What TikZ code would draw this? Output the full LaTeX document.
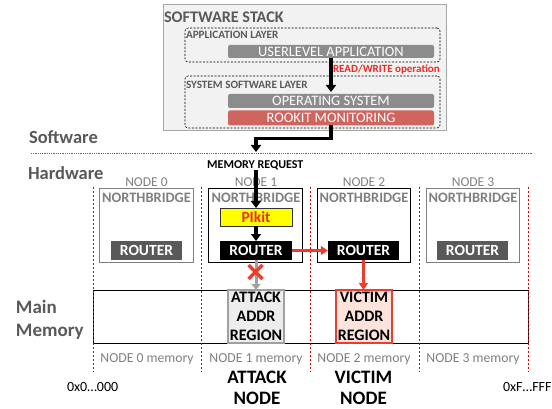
\documentclass[tikz,border=0pt]{standalone}
\usepackage{fontspec}
\setmainfont{Carlito}
\usetikzlibrary{arrows.meta,calc}
\definecolor{stackfill}{HTML}{F2F2F2}
\definecolor{stackline}{HTML}{A6A6A6}
\definecolor{barfill}{HTML}{8C8C8C}
\definecolor{rookfill}{HTML}{D06560}
\definecolor{txtgrey}{HTML}{7F7F7F}
\definecolor{headgrey}{HTML}{595959}
\definecolor{routergrey}{HTML}{595959}
\definecolor{hotred}{HTML}{EE2A24}
\definecolor{arrred}{HTML}{EE3B2A}
\definecolor{attfill}{HTML}{EDEDED}
\definecolor{attline}{HTML}{A0A0A0}
\definecolor{vicfill}{HTML}{FCE4DC}
\definecolor{vicline}{HTML}{E8402E}
\definecolor{pikfill}{HTML}{FFFF00}
\newcommand\fsz[2]{\fontsize{#1}{#2}\selectfont}
\begin{document}
\begin{tikzpicture}[x=1pt,y=-1pt,
  txt/.style={inner sep=0pt,outer sep=0pt},
  stackbox/.style={draw=stackline,fill=stackfill,line width=0.8pt,inner sep=0pt,outer sep=0pt},
  layerbox/.style={draw=black,dashed,dash pattern=on 2pt off 1.5pt,rounded corners=3pt,line width=0.6pt,inner sep=0pt,outer sep=0pt},
  bar/.style={fill=#1,rounded corners=2pt,inner sep=0pt,outer sep=0pt,minimum width=206pt,text=white,font=\fsz{14.4}{16}},
  nodebox/.style={draw=#1,line width=0.8pt,minimum width=93.5pt,minimum height=74.5pt,inner sep=0pt,outer sep=0pt},
  routerbox/.style={fill=#1,minimum width=71.5pt,minimum height=19pt,inner sep=0pt,outer sep=0pt,text=white,font=\bfseries\fsz{15.5}{17}},
  nlabel/.style={txt,text=txtgrey,font=\fsz{13.5}{15}},
  nbridge/.style={txt,text=txtgrey,font=\bfseries\fsz{14.4}{16}},
  memlabel/.style={txt,text=txtgrey,font=\fsz{13.7}{15}},
  bigbold/.style={txt,text=headgrey,font=\bfseries\fsz{18.5}{22}},
  blackarrow/.style={line width=3.5pt,-{Triangle[length=7pt,width=10pt]}},
  redarrow/.style={draw=arrred,line width=3pt,-{Triangle[length=7pt,width=9pt]}},
  greyarrow/.style={draw=attline,line width=3pt,-{Triangle[length=6pt,width=9pt]}},
  divider/.style={draw=red!85!black,dashed,dash pattern=on 2pt off 2pt,line width=0.6pt},
  region/.style={line width=1.8pt,minimum width=56pt,minimum height=53pt,inner sep=0pt,outer sep=0pt,align=center,font=\bfseries\fsz{16}{19.3}}
]
\useasboundingbox (0,0) rectangle (552,409);

% ---------------- software stack ----------------
\node[stackbox,minimum width=283pt,minimum height=126pt] (stack) at (304.5,67) {};
\node[txt,anchor=base west,text=headgrey,font=\bfseries\fsz{16.2}{18}] (stacktitle) at (164,22.5) {SOFTWARE STACK};
\node[layerbox,minimum width=255pt,minimum height=34pt] (applayer) at (312.5,45) {};
\node[txt,anchor=base west,text=headgrey,font=\bfseries\fsz{11.2}{12}] (applabel) at (186,39) {APPLICATION LAYER};
\node[layerbox,minimum width=255pt,minimum height=52pt] (syslayer) at (312.5,102) {};
\node[txt,anchor=base west,text=headgrey,font=\bfseries\fsz{11.2}{12}] (syslabel) at (186,89) {SYSTEM SOFTWARE LAYER};
\node[bar=barfill,minimum height=13pt] (user) at (331,51.5) {USERLEVEL APPLICATION};
\node[bar=barfill,minimum height=14pt] (os) at (331,101) {OPERATING SYSTEM};
\node[bar=rookfill,minimum height=15pt] (rook) at (331,118) {ROOKIT MONITORING};
\node[txt,anchor=base west,text=hotred,font=\bfseries\fsz{11}{13}] (rwlabel) at (333,72.5) {READ/WRITE operation};

\draw[blackarrow,shorten >=2pt] (user.south) -- (os.north);
\coordinate (hwin) at (256,152);
\draw[blackarrow,rounded corners=0pt] (rook.south) -- ++(0,13) -| (hwin);

% ---------------- divider ----------------
\node[bigbold,anchor=base west] (swlabel) at (29,143.5) {Software};
\coordinate (divl) at (31,153.5);
\coordinate (divr) at (532,153.5);
\draw[draw=gray!80!black,dash pattern=on 1pt off 0.8pt,line width=0.7pt] (divl) -- (divr);
\node[bigbold,anchor=base west] (hwlabel) at (28,180) {Hardware};
\node[txt,anchor=base,font=\bfseries\fsz{12}{13}] (memreq) at (255.3,168.3) {MEMORY REQUEST};

% ---------------- dividers between nodes ----------------
\foreach \i/\xx in {0/93,1/201,2/310,3/419,4/528}{
  \coordinate (dtop\i) at (\xx,187);
  \coordinate (dbot\i) at (\xx,372);
}

% ---------------- hardware nodes ----------------
\node[nodebox=txtgrey] (n0) at (146.3,225.5) {};
\node[nodebox=black] (n1) at (255.5,225.5) {};
\node[nodebox=black] (n2) at (363.7,225.5) {};
\node[nodebox=txtgrey] (n3) at (472.7,225.5) {};
\foreach \i/\xx in {0/146.5,1/256,2/364,3/473}{
  \node[nlabel,anchor=base] (nl\i) at (\xx,186.5) {NODE \i};
  \node[nbridge,anchor=base] (nb\i) at (\xx,202.5) {NORTHBRIDGE};
}
\node[routerbox=routergrey] (r0) at (146.5,250.5) {ROUTER};
\node[routerbox=black] (r1) at (256,250.5) {ROUTER};
\node[routerbox=black] (r2) at (363.5,250.5) {ROUTER};
\node[routerbox=routergrey] (r3) at (472.5,250.5) {ROUTER};
\node[draw=black!80,line width=0.8pt,fill=pikfill,minimum width=72pt,minimum height=18pt,inner sep=0pt,outer sep=0pt,text=hotred,font=\bfseries\fsz{15.5}{17}] (pikit) at (256,217) {PIkit};

% ---------------- main memory ----------------
\node[draw=black,line width=1pt,minimum width=435pt,minimum height=53pt,inner sep=0pt,outer sep=0pt] (mem) at (310.5,316.5) {};
\node[region,draw=attline,fill=attfill] (attack) at (256,316.5) {ATTACK\\ADDR\\REGION};
\node[region,draw=vicline,fill=vicfill] (victim) at (364,316.5) {VICTIM\\ADDR\\REGION};
\foreach \i in {0,...,4}{ \draw[divider] (dtop\i) -- (dbot\i); }

\node[bigbold,align=left,anchor=west,font=\bfseries\fsz{19}{22.5}] (mmlabel) at (16,320) {Main\\Memory};
\foreach \i/\xx in {0/147,1/256,2/364,3/473}{
  \node[memlabel,anchor=base] (ml\i) at (\xx,362.5) {NODE \i{} memory};
}
\node[txt,anchor=base west,font=\fsz{14}{16}] (addrlo) at (67,391.5) {0x0…000};
\node[txt,anchor=base west,font=\fsz{14}{16}] (addrhi) at (503,391.5) {0xF…FFF};
\node[txt,align=center,font=\bfseries\fsz{19}{20.5}] (attnode) at (257,388) {ATTACK\\NODE};
\node[txt,align=center,font=\bfseries\fsz{19}{20.5}] (vicnode) at (363.5,388) {VICTIM\\NODE};

% ---------------- connectors ----------------
\draw[blackarrow] (memreq.south -| pikit.north) -- (pikit.north);
\draw[blackarrow] (pikit.south) -- (r1.north);
\draw[redarrow] (r1.east) -- (r2.west);
\draw[redarrow] (r2.south) -- (r2.south |- victim.north);
\draw[greyarrow] (r1.south) -- (attack.north);
\coordinate (xc) at (255.5,272);
\draw[draw=arrred,line width=3.5pt] ($(xc)+(-7,-7)$) -- ($(xc)+(7,7)$);
\draw[draw=arrred,line width=3.5pt] ($(xc)+(-7,7)$) -- ($(xc)+(7,-7)$);
\end{tikzpicture}
\end{document}
